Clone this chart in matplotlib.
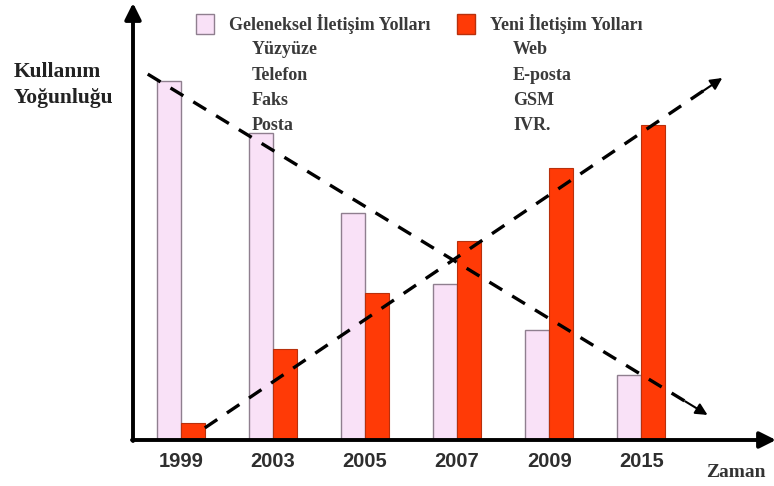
import matplotlib
matplotlib.use("Agg")
import matplotlib.pyplot as plt
from matplotlib.patches import Rectangle, FancyArrowPatch

# Usage intensity (0-100 scale) per year for both channel groups
years = ["1999", "2003", "2005", "2007", "2009", "2015"]
traditional = [83, 71, 52.5, 36, 25.5, 15]
modern = [4, 21, 34, 46, 63, 73]

traditional_name = "Geleneksel İletişim Yolları"
modern_name = "Yeni İletişim Yolları"
traditional_items = ["Yüzyüze", "Telefon", "Faks", "Posta"]
modern_items = ["Web", "E-posta", "GSM", "IVR."]

# Trend arrows (start x, start y, end x, end y) in data units
trend_down = [-0.36, 84.7, 5.72, 5.8]
trend_up = [0.26, 2.8, 5.88, 83.8]

W, H = 774, 486
fig = plt.figure(figsize=(W / 100, H / 100), dpi=100)
fig.patch.set_facecolor("white")

def fx(px):
    return px / W

def fy(py):
    return 1 - py / H

ax_l, ax_r, ax_t, ax_b = 133, 772, 8, 440
ax = fig.add_axes([fx(ax_l), fy(ax_b), fx(ax_r - ax_l), (ax_b - ax_t) / H])
ax.set_xlim(-0.52, 6.42)
ax.set_ylim(0, 100)
ax.axis("off")

PINK = "#f9e1f7"
PINK_EDGE = "#8f7f8f"
RED = "#ff3a06"
RED_EDGE = "#b8300c"
bw = 0.26

x = list(range(len(years)))
ax.bar([i - bw / 2 for i in x], traditional, width=bw, color=PINK,
       edgecolor=PINK_EDGE, linewidth=1.0, zorder=2)
ax.bar([i + bw / 2 for i in x], modern, width=bw, color=RED,
       edgecolor=RED_EDGE, linewidth=0.8, zorder=2)

# Dashed trend arrows
for x0, y0, x1, y1 in (trend_down, trend_up):
    ax.plot([x0, x0 + (x1 - x0) * 0.97], [y0, y0 + (y1 - y0) * 0.97],
            color="black", lw=2.4, dashes=(4.5, 3.5), clip_on=False, zorder=4)
    ax.annotate("", xy=(x1, y1),
                xytext=(x0 + (x1 - x0) * 0.96, y0 + (y1 - y0) * 0.96),
                arrowprops=dict(arrowstyle="-|>,head_length=0.7,head_width=0.35",
                                color="black", lw=1.5, shrinkA=0, shrinkB=0),
                annotation_clip=False, zorder=4)

# Axis lines with arrow heads (figure coordinates)
fig.add_artist(FancyArrowPatch(
    (fx(ax_l), fy(ax_b + 1)), (fx(ax_l), fy(3)), transform=fig.transFigure,
    arrowstyle="-|>,head_length=0.7,head_width=0.35", color="black",
    lw=2.8, mutation_scale=14, shrinkA=0, shrinkB=0))
fig.add_artist(FancyArrowPatch(
    (fx(ax_l - 1), fy(ax_b)), (fx(776), fy(ax_b)), transform=fig.transFigure,
    arrowstyle="-|>,head_length=0.7,head_width=0.35", color="black",
    lw=2.8, mutation_scale=14, shrinkA=0, shrinkB=0))

# Year labels
for i, yr in enumerate(years):
    ax.text(i, -4.9, yr, ha="center", va="center", fontsize=14.5,
            family="Liberation Sans", fontweight="bold", color="#2e2e2e",
            clip_on=False)

serif = "Liberation Serif"
fig.text(fx(706), fy(472), "Zaman", fontsize=14, family=serif,
         fontweight="bold", color="#333333", va="center")
fig.text(fx(14), fy(72), "Kullanım", fontsize=15.5, family=serif,
         fontweight="bold", color="#222222", va="center")
fig.text(fx(14), fy(98), "Yoğunluğu", fontsize=15.5, family=serif,
         fontweight="bold", color="#222222", va="center")

# Legend block
fig.add_artist(Rectangle((fx(196), fy(34)), fx(18), 20 / H, transform=fig.transFigure,
                         facecolor=PINK, edgecolor=PINK_EDGE, lw=1.0))
fig.add_artist(Rectangle((fx(457), fy(34)), fx(18), 20 / H, transform=fig.transFigure,
                         facecolor=RED, edgecolor=RED_EDGE, lw=1.0))
fig.text(fx(229), fy(24), traditional_name, fontsize=13, family=serif,
         fontweight="bold", color="#3a3a3a", va="center")
fig.text(fx(490), fy(24), modern_name, fontsize=13, family=serif,
         fontweight="bold", color="#3a3a3a", va="center")
for k, (a, b) in enumerate(zip(traditional_items, modern_items)):
    yy = 50 + 25.3 * k
    fig.text(fx(252), fy(yy), a, fontsize=13, family=serif,
             fontweight="bold", color="#3a3a3a", va="center")
    fig.text(fx(513), fy(yy), b, fontsize=13, family=serif,
             fontweight="bold", color="#3a3a3a", va="center")

fig.savefig("out.png", dpi=100, facecolor="white")
